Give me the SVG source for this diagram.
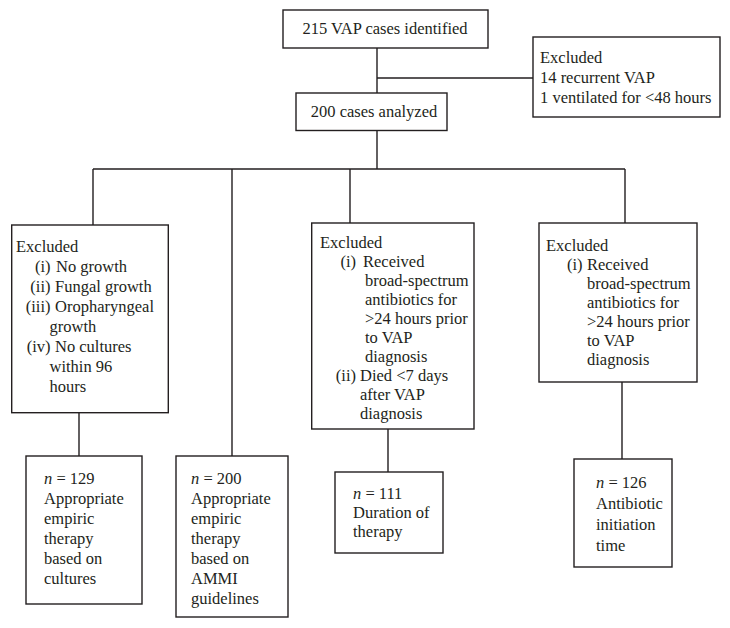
<svg xmlns="http://www.w3.org/2000/svg" width="730" height="628" viewBox="0 0 730 628">
<style>
.box{fill:#fff;stroke:#231f20;stroke-width:1.4}
.ln{fill:none;stroke:#231f20;stroke-width:1.4}
text{font-family:"Liberation Serif","Times New Roman",serif;font-size:16.5px;fill:#231f20}
.m{text-anchor:middle}
.e{text-anchor:end}
.i{font-style:italic}
</style>
<rect width="730" height="628" fill="#fff"/>
<g id="connectors">
<path class="ln" d="M377,48V93M377,78H533M377,130.5V169M93,169H625M93,169V225M232,169V456M350,169V223M625,169V223M79,412.7V456M388,429V472M622,382V459"/>
</g>
<g id="n-identified">
<rect class="box" x="283" y="10" width="205" height="38"/>
<text class="m" x="385" y="34">215 VAP cases identified</text>
</g>
<g id="n-excluded-top">
<rect class="box" x="533" y="37" width="187" height="80"/>
<text x="540" y="63">Excluded</text>
<text x="540" y="83">14 recurrent VAP</text>
<text x="540" y="103">1 ventilated for &lt;48 hours</text>
</g>
<g id="n-analyzed">
<rect class="box" x="296" y="93" width="151" height="37.5"/>
<text class="m" x="374" y="117">200 cases analyzed</text>
</g>
<g id="n-excl-cultures">
<rect class="box" x="11.7" y="225" width="156.6" height="187.7"/>
<text x="16" y="252">Excluded</text>
<text class="e" x="50.5" y="272">(i)</text><text x="56" y="272">No growth</text>
<text class="e" x="50.5" y="292">(ii)</text><text x="55" y="292">Fungal growth</text>
<text class="e" x="50.5" y="312">(iii)</text><text x="55" y="312">Oropharyngeal</text>
<text x="49.5" y="332">growth</text>
<text class="e" x="50.5" y="352">(iv)</text><text x="55" y="352">No cultures</text>
<text x="49.5" y="372">within 96</text>
<text x="49.5" y="392">hours</text>
</g>
<g id="n-excl-duration">
<rect class="box" x="311.7" y="223" width="162.3" height="206"/>
<text x="320" y="248">Excluded</text>
<text class="e" x="356" y="267">(i)</text><text x="363" y="267">Received</text>
<text x="365" y="286">broad-spectrum</text>
<text x="365" y="305">antibiotics for</text>
<text x="365" y="324">&gt;24 hours prior</text>
<text x="365" y="343">to VAP</text>
<text x="365" y="362">diagnosis</text>
<text class="e" x="356" y="381">(ii)</text><text x="360" y="381">Died &lt;7 days</text>
<text x="360" y="400">after VAP</text>
<text x="360" y="419">diagnosis</text>
</g>
<g id="n-excl-initiation">
<rect class="box" x="539" y="223" width="158" height="159"/>
<text x="546" y="251">Excluded</text>
<text class="e" x="582.5" y="270">(i)</text><text x="587" y="270">Received</text>
<text x="587" y="289">broad-spectrum</text>
<text x="587" y="308">antibiotics for</text>
<text x="587" y="327">&gt;24 hours prior</text>
<text x="587" y="346">to VAP</text>
<text x="587" y="365">diagnosis</text>
</g>
<g id="n-129">
<rect class="box" x="26" y="456" width="116" height="148"/>
<text x="44" y="484"><tspan class="i">n</tspan> = 129</text>
<text x="44" y="504">Appropriate</text>
<text x="44" y="524">empiric</text>
<text x="44" y="544">therapy</text>
<text x="44" y="564">based on</text>
<text x="44" y="584">cultures</text>
</g>
<g id="n-200">
<rect class="box" x="176" y="456" width="112" height="161"/>
<text x="191" y="484"><tspan class="i">n</tspan> = 200</text>
<text x="191" y="504">Appropriate</text>
<text x="191" y="524">empiric</text>
<text x="191" y="544">therapy</text>
<text x="191" y="564">based on</text>
<text x="191" y="584">AMMI</text>
<text x="191" y="604">guidelines</text>
</g>
<g id="n-111">
<rect class="box" x="335" y="472" width="108" height="81"/>
<text x="353" y="499"><tspan class="i">n</tspan> = 111</text>
<text x="353" y="518">Duration of</text>
<text x="353" y="537">therapy</text>
</g>
<g id="n-126">
<rect class="box" x="574" y="459" width="98" height="108"/>
<text x="596" y="488"><tspan class="i">n</tspan> = 126</text>
<text x="596" y="509">Antibiotic</text>
<text x="596" y="530">initiation</text>
<text x="596" y="551">time</text>
</g>
</svg>
